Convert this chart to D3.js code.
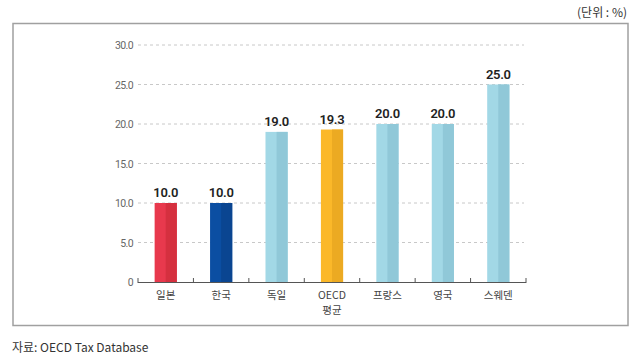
<!DOCTYPE html>
<html><head><meta charset="utf-8">
<script src="https://cdn.jsdelivr.net/npm/d3@7"></script>
<style>
body{margin:0;background:#fff;}
svg{display:block;font-family:"Noto Sans CJK KR","Noto Sans",sans-serif;}
</style></head>
<body><svg id="c" width="640" height="359"></svg>
<script>
const categories = [["일본"],["한국"],["독일"],["OECD","평균"],["프랑스"],["영국"],["스웨덴"]];
const values = [10.0, 10.0, 19.0, 19.3, 20.0, 20.0, 25.0];
const colorsLight = ["#e8394d","#0b4ea2","#a2d8e6","#fbb829","#a2d8e6","#a2d8e6","#a2d8e6"];
const colorsDark  = ["#d5303f","#0a4591","#90c8d8","#ecaa22","#90c8d8","#90c8d8","#90c8d8"];
const yTicks = [0,5,10,15,20,25,30];
const unitText = "(단위 : %)";
const sourceText = "자료: OECD Tax Database";

const svg = d3.select("#c");
svg.append("rect").attr("x",13).attr("y",23.5).attr("width",615).attr("height",302)
  .attr("fill","none").attr("stroke","#a0a0a0").attr("stroke-width",1.5);

svg.append("text").attr("x",627).attr("y",17).attr("text-anchor","end")
  .attr("font-size",12).attr("fill","#333").text(unitText);
svg.append("text").attr("x",12).attr("y",352)
  .attr("font-size",12).attr("fill","#333").text(sourceText);

const x = d3.scaleBand().domain(d3.range(values.length)).range([138,526]).paddingInner(0.6).paddingOuter(0.3);
const xb = d3.scaleLinear().domain([0,values.length]).range([138,526]);
const y = d3.scaleLinear().domain([0,30]).range([282,45]);

// grid
svg.append("g").selectAll("line").data(yTicks.filter(d=>d>0)).join("line")
  .attr("x1",138).attr("x2",524).attr("y1",d=>y(d)).attr("y2",d=>y(d))
  .attr("stroke","#c8c8c8").attr("stroke-width",1).attr("stroke-dasharray","3,3");

// y labels
svg.append("g").selectAll("text").data(yTicks).join("text")
  .attr("x",133).attr("y",d=>y(d)+4).attr("text-anchor","end")
  .attr("font-size",10.5).attr("fill","#666").attr("letter-spacing","-0.6")
  .attr("font-family","Roboto, 'Liberation Sans Narrow', sans-serif")
  .text(d=>d===0?"0":d.toFixed(1));

// bars
const g = svg.append("g");
values.forEach((v,i)=>{
  const bx = x(i), bw = x.bandwidth();
  g.append("rect").attr("x",bx).attr("y",y(v)).attr("width",bw).attr("height",y(0)-y(v)).attr("fill",colorsLight[i]);
  g.append("rect").attr("x",bx+bw/2).attr("y",y(v)).attr("width",bw/2).attr("height",y(0)-y(v)).attr("fill",colorsDark[i]);
  g.append("text").attr("x",bx+bw/2).attr("y",y(v)-6).attr("text-anchor","middle")
    .attr("font-size",13).attr("font-weight",600).attr("fill","#222")
    .attr("font-family","Roboto, 'Noto Sans', sans-serif").attr("letter-spacing","-0.3")
    .text(v.toFixed(1));
});

// x axis
svg.append("line").attr("x1",138).attr("x2",526).attr("y1",282.5).attr("y2",282.5).attr("stroke","#555").attr("stroke-width",1);
svg.append("g").selectAll("line").data(d3.range(values.length+1)).join("line")
  .attr("x1",d=>xb(d)).attr("x2",d=>xb(d)).attr("y1",278).attr("y2",283).attr("stroke","#555");

categories.forEach((c,i)=>{
  c.forEach((s,j)=>{
    svg.append("text").attr("text-anchor","middle").attr("font-size",10.5).attr("fill","#444")
      .attr("x",x(i)+x.bandwidth()/2).attr("y",299+j*15).text(s);
  });
});
</script></body></html>
